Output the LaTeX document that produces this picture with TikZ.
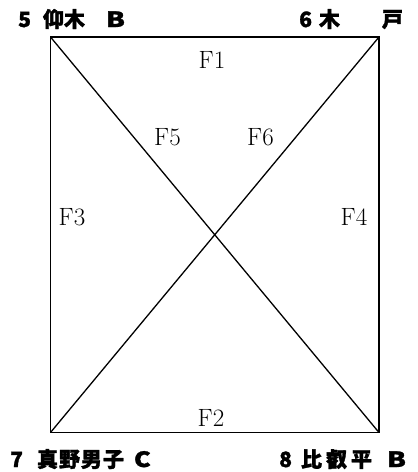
\documentclass[tikz,border=0pt]{standalone}
\usepackage{fontspec}
\newfontfamily\cjk{Noto Sans CJK JP}[BoldFeatures={FakeBold=1.5}]
\tikzset{
  frame/.style={line width=1.8pt},
  diag/.style={line width=1.3pt},
  flabel/.style={inner sep=0pt, font=\fontsize{25}{25}\selectfont},
  place/.style={inner sep=0pt, anchor=base west, font=\cjk\bfseries\fontsize{21}{21}\selectfont},
}
\begin{document}
\begin{tikzpicture}[x=1pt,y=-1pt]
\useasboundingbox (0,0) rectangle (418,472);
\coordinate (TL) at (50.5,37);
\coordinate (TR) at (379,37);
\coordinate (BL) at (50.5,432.5);
\coordinate (BR) at (379,432.5);
\draw[frame] (TL) -- (TR) -- (BR) -- (BL) -- cycle;
\draw[diag] (TL) -- (BR);
\draw[diag] (TR) -- (BL);
\node[flabel] (f1) at (212,60) {F1};
\node[flabel] (f2) at (211,418) {F2};
\node[flabel] (f3) at (72,217.5) {F3};
\node[flabel] (f4) at (354,216.5) {F4};
\node[flabel] (f5) at (167.5,137.5) {F5};
\node[flabel] (f6) at (260.5,137.5) {F6};
\node[place] (p5) at (18,27) {5\hspace{12pt}仰木\hspace{21pt}\scalebox{1.3}[1]{B}};
\node[place] (p6) at (299,27) {6\hspace{7pt}木\hspace{42pt}戸};
\node[place] (p7) at (10,467) {7\hspace{14pt}真\hspace{1pt}野\hspace{1pt}男\hspace{1pt}子\hspace{10pt}\scalebox{1.2}[1]{C}};
\node[place] (p8) at (279,467) {8\hspace{9pt}比\hspace{4pt}叡\hspace{4pt}平\hspace{15pt}\scalebox{1.3}[1]{B}};
\end{tikzpicture}
\end{document}
